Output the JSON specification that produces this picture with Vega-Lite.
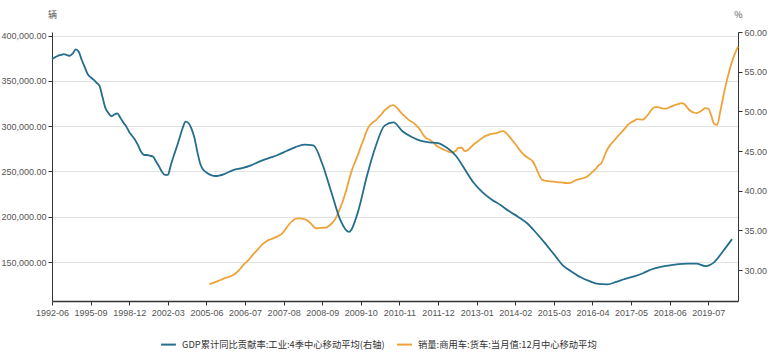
{
  "$schema": "https://vega.github.io/schema/vega-lite/v6.json",
  "width": 686,
  "height": 269,
  "autosize": "none",
  "padding": {"left": 52, "top": 32, "right": 30, "bottom": 53},
  "background": "white",
  "config": {
    "view": {"stroke": null},
    "font": "Liberation Sans",
    "axis": {"labelFont": "Liberation Sans", "labelFontSize": 9, "labelColor": "#555", "domainColor": "#333", "tickColor": "#333", "tickSize": 4, "titleFont": "Noto Sans CJK SC", "titleFontWeight": "normal", "titleFontSize": 9, "titleColor": "#555"}
  },
  "datasets": {
    "gdp": [
      {"d":"1992-06","v":56.6},{"d":"1992-09","v":56.8},{"d":"1992-12","v":57.0},{"d":"1993-03","v":57.1},{"d":"1993-06","v":57.2},{"d":"1993-09","v":57.1},{"d":"1993-12","v":57.0},{"d":"1994-03","v":57.3},{"d":"1994-06","v":57.8},{"d":"1994-09","v":57.5},{"d":"1994-12","v":56.5},{"d":"1995-03","v":55.6},{"d":"1995-06","v":54.7},{"d":"1995-09","v":54.3},{"d":"1995-12","v":54.0},{"d":"1996-03","v":53.6},{"d":"1996-06","v":53.2},{"d":"1996-09","v":51.8},{"d":"1996-12","v":50.4},{"d":"1997-03","v":49.8},{"d":"1997-06","v":49.4},{"d":"1997-09","v":49.6},{"d":"1997-12","v":49.75},{"d":"1998-03","v":49.2},{"d":"1998-06","v":48.6},{"d":"1998-09","v":48.1},{"d":"1998-12","v":47.4},{"d":"1999-03","v":46.9},{"d":"1999-06","v":46.4},{"d":"1999-09","v":45.7},{"d":"1999-12","v":44.9},{"d":"2000-03","v":44.5},{"d":"2000-06","v":44.5},{"d":"2000-09","v":44.4},{"d":"2000-12","v":44.3},{"d":"2001-03","v":43.7},{"d":"2001-06","v":43.1},{"d":"2001-09","v":42.4},{"d":"2001-12","v":42.0},{"d":"2002-03","v":42.0},{"d":"2002-06","v":43.2},{"d":"2002-09","v":44.4},{"d":"2002-12","v":45.5},{"d":"2003-03","v":46.7},{"d":"2003-06","v":47.9},{"d":"2003-09","v":48.7},{"d":"2003-12","v":48.5},{"d":"2004-03","v":47.8},{"d":"2004-06","v":46.6},{"d":"2004-09","v":44.8},{"d":"2004-12","v":43.3},{"d":"2005-03","v":42.6},
      {"d":"2005-06","v":42.3},{"d":"2005-09","v":41.85},{"d":"2005-12","v":42.1},{"d":"2006-03","v":42.6},{"d":"2006-06","v":42.85},{"d":"2006-09","v":43.2},{"d":"2006-12","v":43.7},{"d":"2007-03","v":44.1},{"d":"2007-06","v":44.5},{"d":"2007-09","v":45.0},{"d":"2007-12","v":45.5},{"d":"2008-03","v":45.8},{"d":"2008-06","v":45.7},{"d":"2008-09","v":43.4},{"d":"2008-12","v":39.9},{"d":"2009-03","v":36.4},{"d":"2009-06","v":34.8},{"d":"2009-09","v":37.3},{"d":"2009-12","v":41.8},{"d":"2010-03","v":45.6},{"d":"2010-06","v":48.2},{"d":"2010-09","v":48.6},{"d":"2010-12","v":47.5},{"d":"2011-03","v":46.8},{"d":"2011-06","v":46.3},{"d":"2011-09","v":46.1},{"d":"2011-12","v":46.0},{"d":"2012-03","v":45.4},{"d":"2012-06","v":44.4},{"d":"2012-09","v":42.7},{"d":"2012-12","v":41.0},{"d":"2013-03","v":39.8},{"d":"2013-06","v":38.9},{"d":"2013-09","v":38.2},{"d":"2013-12","v":37.4},{"d":"2014-03","v":36.7},{"d":"2014-06","v":35.9},{"d":"2014-09","v":34.7},{"d":"2014-12","v":33.4},{"d":"2015-03","v":32.0},{"d":"2015-06","v":30.6},{"d":"2015-09","v":29.8},{"d":"2015-12","v":29.1},{"d":"2016-03","v":28.6},{"d":"2016-06","v":28.25},{"d":"2016-09","v":28.2},{"d":"2016-12","v":28.5},{"d":"2017-03","v":28.9},{"d":"2017-06","v":29.2},{"d":"2017-09","v":29.6},{"d":"2017-12","v":30.1},{"d":"2018-03","v":30.4},{"d":"2018-06","v":30.6},{"d":"2018-09","v":30.75},{"d":"2018-12","v":30.8},{"d":"2019-03","v":30.8},{"d":"2019-06","v":30.5},{"d":"2019-09","v":31.0},{"d":"2019-12","v":32.4},{"d":"2020-03","v":33.9}
    ],
    "sales": [
      {"d":"2005-07","v":125800},{"d":"2005-08","v":126800},{"d":"2005-09","v":127800},{"d":"2005-10","v":129300},{"d":"2005-11","v":130500},{"d":"2005-12","v":132000},
      {"d":"2006-01","v":133000},{"d":"2006-02","v":134000},{"d":"2006-03","v":135800},{"d":"2006-04","v":138000},{"d":"2006-05","v":141000},{"d":"2006-06","v":145000},{"d":"2006-07","v":148800},{"d":"2006-08","v":151500},{"d":"2006-09","v":155500},{"d":"2006-10","v":159500},{"d":"2006-11","v":163000},{"d":"2006-12","v":166500},
      {"d":"2007-01","v":170000},{"d":"2007-02","v":172500},{"d":"2007-03","v":174500},{"d":"2007-04","v":175500},{"d":"2007-05","v":177000},{"d":"2007-06","v":178500},{"d":"2007-07","v":180300},{"d":"2007-08","v":183500},{"d":"2007-09","v":188000},{"d":"2007-10","v":192300},{"d":"2007-11","v":195500},{"d":"2007-12","v":197800},
      {"d":"2008-01","v":198300},{"d":"2008-02","v":198000},{"d":"2008-03","v":197300},{"d":"2008-04","v":196000},{"d":"2008-05","v":193000},{"d":"2008-06","v":189500},{"d":"2008-07","v":187300},{"d":"2008-08","v":187500},{"d":"2008-09","v":187800},{"d":"2008-10","v":188000},{"d":"2008-11","v":189300},{"d":"2008-12","v":192000},
      {"d":"2009-01","v":195500},{"d":"2009-02","v":201500},{"d":"2009-03","v":209500},{"d":"2009-04","v":218000},{"d":"2009-05","v":228500},{"d":"2009-06","v":240500},{"d":"2009-07","v":251500},{"d":"2009-08","v":260000},{"d":"2009-09","v":268000},{"d":"2009-10","v":277500},{"d":"2009-11","v":286000},{"d":"2009-12","v":295000},
      {"d":"2010-01","v":301000},{"d":"2010-02","v":304000},{"d":"2010-03","v":306500},{"d":"2010-04","v":310000},{"d":"2010-05","v":313500},{"d":"2010-06","v":317500},{"d":"2010-07","v":320000},{"d":"2010-08","v":322500},{"d":"2010-09","v":323300},{"d":"2010-10","v":321000},{"d":"2010-11","v":317000},{"d":"2010-12","v":313300},
      {"d":"2011-01","v":310300},{"d":"2011-02","v":307200},{"d":"2011-03","v":305000},{"d":"2011-04","v":303000},{"d":"2011-05","v":299600},{"d":"2011-06","v":296000},{"d":"2011-07","v":290400},{"d":"2011-08","v":286800},{"d":"2011-09","v":285300},{"d":"2011-10","v":283000},{"d":"2011-11","v":280000},{"d":"2011-12","v":277200},
      {"d":"2012-01","v":275500},{"d":"2012-02","v":274000},{"d":"2012-03","v":272600},{"d":"2012-04","v":271400},{"d":"2012-05","v":271100},{"d":"2012-06","v":273100},{"d":"2012-07","v":276200},{"d":"2012-08","v":276200},{"d":"2012-09","v":272400},{"d":"2012-10","v":273600},{"d":"2012-11","v":276700},{"d":"2012-12","v":279800},
      {"d":"2013-01","v":282300},{"d":"2013-02","v":284900},{"d":"2013-03","v":287200},{"d":"2013-04","v":289300},{"d":"2013-05","v":290500},{"d":"2013-06","v":291500},{"d":"2013-07","v":292000},{"d":"2013-08","v":292600},{"d":"2013-09","v":294100},{"d":"2013-10","v":294600},{"d":"2013-11","v":292000},{"d":"2013-12","v":288500},
      {"d":"2014-01","v":284400},{"d":"2014-02","v":280300},{"d":"2014-03","v":275800},{"d":"2014-04","v":271700},{"d":"2014-05","v":268200},{"d":"2014-06","v":265600},{"d":"2014-07","v":263600},{"d":"2014-08","v":260600},{"d":"2014-09","v":254000},{"d":"2014-10","v":246500},{"d":"2014-11","v":240800},{"d":"2014-12","v":239800},
      {"d":"2015-01","v":239300},{"d":"2015-02","v":239000},{"d":"2015-03","v":238700},{"d":"2015-04","v":238300},{"d":"2015-05","v":238000},{"d":"2015-06","v":237800},{"d":"2015-07","v":237300},{"d":"2015-08","v":237200},{"d":"2015-09","v":238000},{"d":"2015-10","v":239800},{"d":"2015-11","v":241000},{"d":"2015-12","v":241800},
      {"d":"2016-01","v":242800},{"d":"2016-02","v":244000},{"d":"2016-03","v":246500},{"d":"2016-04","v":249500},{"d":"2016-05","v":252600},{"d":"2016-06","v":256600},{"d":"2016-07","v":259200},{"d":"2016-08","v":266800},{"d":"2016-09","v":274300},{"d":"2016-10","v":279400},{"d":"2016-11","v":283000},{"d":"2016-12","v":286900},
      {"d":"2017-01","v":290600},{"d":"2017-02","v":294200},{"d":"2017-03","v":297800},{"d":"2017-04","v":301800},{"d":"2017-05","v":304200},{"d":"2017-06","v":305900},{"d":"2017-07","v":307700},{"d":"2017-08","v":307500},{"d":"2017-09","v":307200},{"d":"2017-10","v":310000},{"d":"2017-11","v":314100},{"d":"2017-12","v":318700},
      {"d":"2018-01","v":321000},{"d":"2018-02","v":321000},{"d":"2018-03","v":320200},{"d":"2018-04","v":319300},{"d":"2018-05","v":319500},{"d":"2018-06","v":321200},{"d":"2018-07","v":322500},{"d":"2018-08","v":323600},{"d":"2018-09","v":324600},{"d":"2018-10","v":325500},{"d":"2018-11","v":324300},{"d":"2018-12","v":320200},
      {"d":"2019-01","v":316700},{"d":"2019-02","v":315200},{"d":"2019-03","v":314400},{"d":"2019-04","v":315700},{"d":"2019-05","v":317700},{"d":"2019-06","v":320000},{"d":"2019-07","v":319200},{"d":"2019-08","v":311600},{"d":"2019-09","v":302500},{"d":"2019-10","v":301500},{"d":"2019-11","v":315700},{"d":"2019-12","v":331900},
      {"d":"2020-01","v":347000},{"d":"2020-02","v":360200},{"d":"2020-03","v":371300},{"d":"2020-04","v":380400},{"d":"2020-05","v":387900}
    ]
  },
  "layer": [
    {
      "data": {"name": "sales"},
      "mark": {"type": "line", "strokeWidth": 1.8, "interpolate": "monotone"},
      "encoding": {
        "x": {"field": "d", "type": "ordinal", "sort": "ascending", "scale": {"type": "point", "padding": 0},
          "axis": {"values": ["1992-06","1995-09","1998-12","2002-03","2005-06","2006-07","2007-08","2008-09","2009-10","2010-11","2011-12","2013-01","2014-02","2015-03","2016-04","2017-05","2018-06","2019-07"], "labelAngle": 0, "title": null, "grid": false, "domainWidth": 1.5, "labelPadding": 3}},
        "y": {"field": "v", "type": "quantitative", "scale": {"domain": [107000, 404000], "nice": false, "zero": false},
          "axis": {"orient": "left", "values": [150000, 200000, 250000, 300000, 350000, 400000], "format": ",.2f", "grid": true, "gridColor": "#e2e2e2", "title": "辆", "titleAngle": 0, "titleX": 0, "titleY": -18, "titleAlign": "center", "titleBaseline": "middle", "labelPadding": 2}},
        "color": {"datum": "销量:商用车:货车:当月值:12月中心移动平均", "type": "nominal",
          "scale": {"domain": ["GDP累计同比贡献率:工业:4季中心移动平均(右轴)", "销量:商用车:货车:当月值:12月中心移动平均"], "range": ["#246d8c", "#eea33a"]},
          "legend": {"orient": "none", "legendX": 108, "legendY": 304, "direction": "horizontal", "title": null, "symbolType": "stroke", "symbolStrokeWidth": 2, "symbolSize": 220, "labelFont": "Noto Sans CJK SC", "labelFontSize": 9.3, "labelColor": "#333", "columnPadding": 8, "labelLimit": 400, "labelOffset": 5}}
      }
    },
    {
      "data": {"name": "gdp"},
      "mark": {"type": "line", "strokeWidth": 1.8, "interpolate": "monotone"},
      "encoding": {
        "x": {"field": "d", "type": "ordinal", "sort": "ascending"},
        "y": {"field": "v", "type": "quantitative", "scale": {"domain": [26.1, 60], "nice": false, "zero": false},
          "axis": {"orient": "right", "values": [30, 35, 40, 45, 50, 55, 60], "format": ".2f", "grid": false, "title": "%", "titleAngle": 0, "titleX": 0, "titleY": -18, "titleAlign": "center", "titleBaseline": "middle", "labelPadding": 2}},
        "color": {"datum": "GDP累计同比贡献率:工业:4季中心移动平均(右轴)", "type": "nominal"}
      }
    }
  ],
  "resolve": {"scale": {"y": "independent"}}
}
